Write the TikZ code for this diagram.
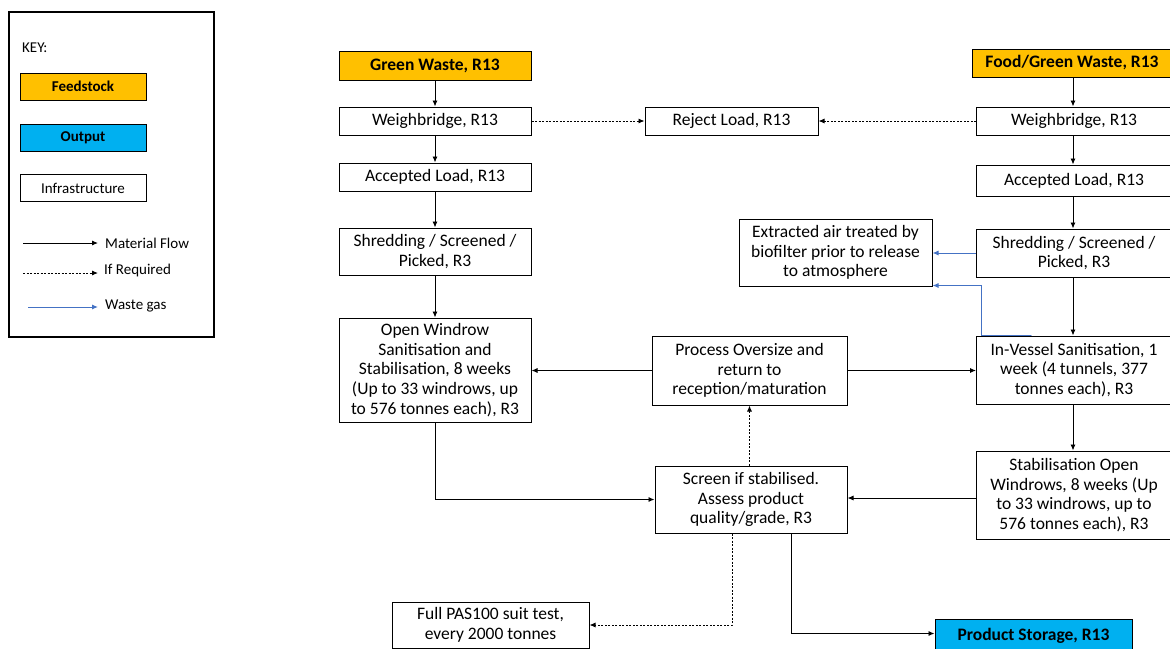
\documentclass[tikz,border=0pt]{standalone}
\usepackage{fontspec}
\setmainfont{Carlito}
\usetikzlibrary{arrows.meta}
\definecolor{feed}{HTML}{FFC000}
\definecolor{outc}{HTML}{00B0F0}
\definecolor{gas}{HTML}{4472C4}
\tikzset{
  box/.style={draw, line width=1pt, align=center, inner sep=0pt, font=\fontsize{17.5}{19.7}\selectfont},
  feedbox/.style={box, fill=feed, font=\fontsize{17.5}{19.7}\selectfont\bfseries},
  outbox/.style={box, fill=outc, font=\fontsize{17.5}{19.7}\selectfont\bfseries},
  kbox/.style={draw, line width=1pt, align=center, inner sep=0pt, minimum width=126pt, minimum height=27pt, font=\fontsize{15}{17}\selectfont},
  ktext/.style={anchor=west, inner sep=0pt, font=\fontsize{15}{17}\selectfont},
  mf/.style={line width=0.9pt, -{Latex[length=6pt,width=5pt]}},
  ir/.style={mf, dash pattern=on 2pt off 1.5pt},
  wg/.style={mf, draw=gas, line width=1pt, -{Latex[length=6pt,width=5pt]}},
}
\begin{document}
\begin{tikzpicture}[x=1pt,y=-1pt]
\useasboundingbox (0,0) rectangle (1170,648);
% key
\draw[line width=2pt] (9,12) rectangle (214,337);
\node[ktext] (keyt) at (22,48) {KEY:};
\node[kbox, fill=feed, font=\fontsize{15}{17}\selectfont\bfseries] (kfeed) at (83,86.5) {Feedstock};
\node[kbox, fill=outc, font=\fontsize{15}{17}\selectfont\bfseries] (kout) at (83,137.5) {Output};
\node[kbox] (kinf) at (83,188) {Infrastructure};
\coordinate (m1) at (23,243); \coordinate (m2) at (98,243);
\coordinate (i1) at (23,273); \coordinate (i2) at (98,273);
\coordinate (g1) at (28,307); \coordinate (g2) at (98,307);
\draw[mf] (m1) -- (m2);
\draw[ir] (i1) -- (i2);
\draw[wg] (g1) -- (g2);
\node[ktext] (kmf) at (105,243) {Material Flow};
\node[ktext] (kir) at (104,270) {If Required};
\node[ktext] (kwg) at (105,306) {Waste gas};
% left column
\node[feedbox, minimum width=192pt, minimum height=29pt] (gw) at (435,65.5) {Green Waste, R13};
\node[box, minimum width=192pt, minimum height=28pt] (wbl) at (435,121) {Weighbridge, R13};
\node[box, minimum width=192pt, minimum height=28pt] (all) at (435,177) {Accepted Load, R13};
\node[box, minimum width=192pt, minimum height=47pt] (shl) at (435,251.5) {Shredding / Screened /\\ Picked, R3};
\node[box, minimum width=192pt, minimum height=104pt] (ow) at (435,370) {Open Windrow\\ Sanitisation and\\ Stabilisation, 8 weeks\\ (Up to 33 windrows, up\\ to 576 tonnes each), R3};
% middle
\node[box, minimum width=173pt, minimum height=28pt] (rej) at (731.5,121) {Reject Load, R13};
\node[box, minimum width=193pt, minimum height=67pt] (ex) at (835.5,252.5) {Extracted air treated by\\ biofilter prior to release\\ to atmosphere};
\node[box, minimum width=195pt, minimum height=69pt] (proc) at (749.5,370.5) {Process Oversize and\\ return to\\ reception/maturation};
\node[box, minimum width=192pt, minimum height=67pt] (scr) at (751,499.5) {Screen if stabilised.\\ Assess product\\ quality/grade, R3};
\node[box, minimum width=197pt, minimum height=46pt] (pas) at (490.5,625) {Full PAS100 suit test,\\ every 2000 tonnes};
\node[outbox, minimum width=197pt, minimum height=34pt] (ps) at (1033.5,636) {Product Storage, R13};
% right column
\node[feedbox, minimum width=199pt, minimum height=28pt] (fgw) at (1072,63) {Food/Green Waste, R13};
\node[box, minimum width=195pt, minimum height=28pt] (wbr) at (1074,121) {Weighbridge, R13};
\node[box, minimum width=195pt, minimum height=31pt] (alr) at (1074,180.5) {Accepted Load, R13};
\node[box, minimum width=195pt, minimum height=48pt] (shr) at (1074,253) {Shredding / Screened /\\ Picked, R3};
\node[box, minimum width=195pt, minimum height=68pt] (iv) at (1074,370) {In-Vessel Sanitisation, 1\\ week (4 tunnels, 377\\ tonnes each), R3};
\node[box, minimum width=195pt, minimum height=88pt] (stab) at (1074,495) {Stabilisation Open\\ Windrows, 8 weeks (Up\\ to 33 windrows, up to\\ 576 tonnes each), R3};
% left flow
\draw[mf] (gw) -- (wbl);
\draw[mf] (wbl) -- (all);
\draw[mf] (all) -- (shl);
\draw[mf] (shl) -- (ow);
\draw[ir] (wbl) -- (rej);
% right flow
\draw[mf] ([xshift=-1pt]fgw.south -| wbr.north) -- ([xshift=-1pt]wbr.north);
\draw[mf] ([xshift=-1pt]wbr.south) -- ([xshift=-1pt]alr.north);
\draw[mf] ([xshift=-1pt]alr.south) -- ([xshift=-1pt]shr.north);
\draw[mf] ([xshift=-1pt]shr.south) -- ([xshift=-1pt]iv.north);
\draw[ir] (wbr) -- (rej);
\draw[mf] ([xshift=-1pt]iv.south) -- ([xshift=-1pt]stab.north);
% gas
\draw[wg] (shr.west) -- (shr.west -| ex.east);
\draw[wg, line cap=round] ([xshift=-43pt]iv.north) -- ([xshift=5pt]iv.north west) |- ([yshift=1pt]ex.south east);
% middle flows
\draw[mf] (proc.west) -- (proc.west -| ow.east);
\draw[mf] (proc.east) -- (proc.east -| iv.west);
\draw[ir] (scr.north -| proc.south) -- (proc.south);
\draw[mf] (ow.south) |- (scr.west);
\draw[mf] (stab.west |- 0,498) -- (scr.east |- 0,498);
\draw[ir] ([xshift=-19pt]scr.south) |- (pas.east);
\draw[mf] ([xshift=40pt]scr.south) |- ([yshift=2.5pt]ps.west);
\end{tikzpicture}
\end{document}
